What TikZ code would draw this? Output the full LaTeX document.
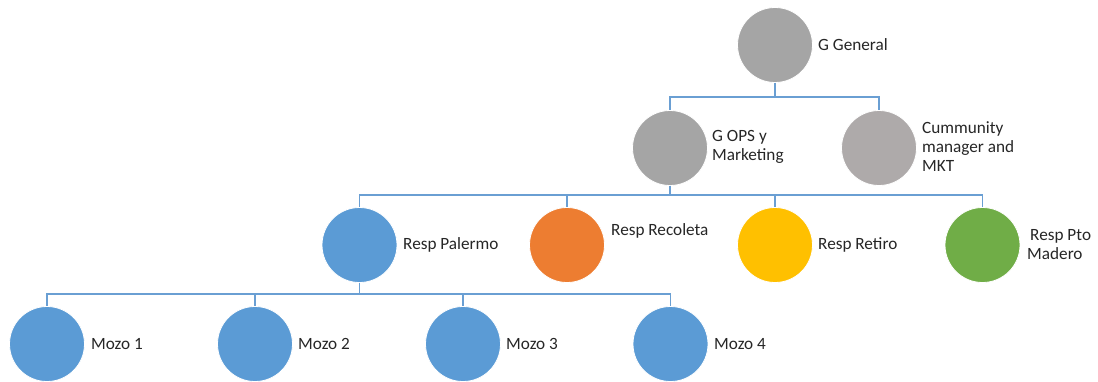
\documentclass[tikz,border=0pt]{standalone}
\usepackage{fontspec}
\setmainfont{Carlito}
\definecolor{cgray}{HTML}{A5A5A5}
\definecolor{cgray2}{HTML}{AEAAAA}
\definecolor{cblue}{HTML}{5B9BD5}
\definecolor{corange}{HTML}{ED7D31}
\definecolor{cgold}{HTML}{FFC000}
\definecolor{cgreen}{HTML}{70AD47}
\definecolor{cline}{HTML}{6A9FD3}
\begin{document}
\begin{tikzpicture}[x=1pt,y=-1pt,
  person/.style={circle,draw=white,line width=0.8pt,minimum size=75pt,inner sep=0pt},
  lbl/.style={anchor=west,inner sep=0pt,align=left,font=\fontsize{17.2}{19}\selectfont,text=black!85},
  conn/.style={draw=cline,line width=1.4pt}]
\useasboundingbox (0,0) rectangle (1098,381);
% circles
\node[person,fill=cgray] (gg) at (775,45) {};
\node[person,fill=cgray] (ops) at (670,148) {};
\node[person,fill=cgray2] (cm) at (879,148) {};
\node[person,fill=cblue] (pal) at (359.5,245) {};
\node[person,fill=corange] (rec) at (567,245) {};
\node[person,fill=cgold] (ret) at (775,245) {};
\node[person,fill=cgreen] (pto) at (982.5,245) {};
\node[person,fill=cblue] (m1) at (47,344) {};
\node[person,fill=cblue] (m2) at (255,344) {};
\node[person,fill=cblue] (m3) at (463,344) {};
\node[person,fill=cblue] (m4) at (670.5,344) {};
% labels
\node[lbl] (tgg) at (818,45) {G General};
\node[lbl] (tops) at (712,147) {G OPS y\\Marketing};
\node[lbl] (tcm) at (922,147) {Cummunity\\manager and\\MKT};
\node[lbl] (tpal) at (403,245) {Resp Palermo};
\node[lbl] (trec) at (611,231) {Resp Recoleta};
\node[lbl] (tret) at (818,245) {Resp Retiro};
\node[lbl] (tpto) at (1027,245) {\hspace*{3pt}Resp Pto\\Madero};
\node[lbl] (tm1) at (91,344) {Mozo 1};
\node[lbl] (tm2) at (298,344) {Mozo 2};
\node[lbl] (tm3) at (506,344) {Mozo 3};
\node[lbl] (tm4) at (714,344) {Mozo 4};
% buses
\coordinate (b1) at (0,97);
\coordinate (b2) at (0,195);
\coordinate (b3) at (0,294);
\foreach \c in {ops,cm}
  \draw[conn] (gg.south) -- (gg.south |- b1) -| (\c.north);
\foreach \c in {pal,rec,ret,pto}
  \draw[conn] (ops.south) -- (ops.south |- b2) -| (\c.north);
\foreach \c in {m1,m2,m3,m4}
  \draw[conn] (pal.south) -- (pal.south |- b3) -| (\c.north);
\end{tikzpicture}
\end{document}
